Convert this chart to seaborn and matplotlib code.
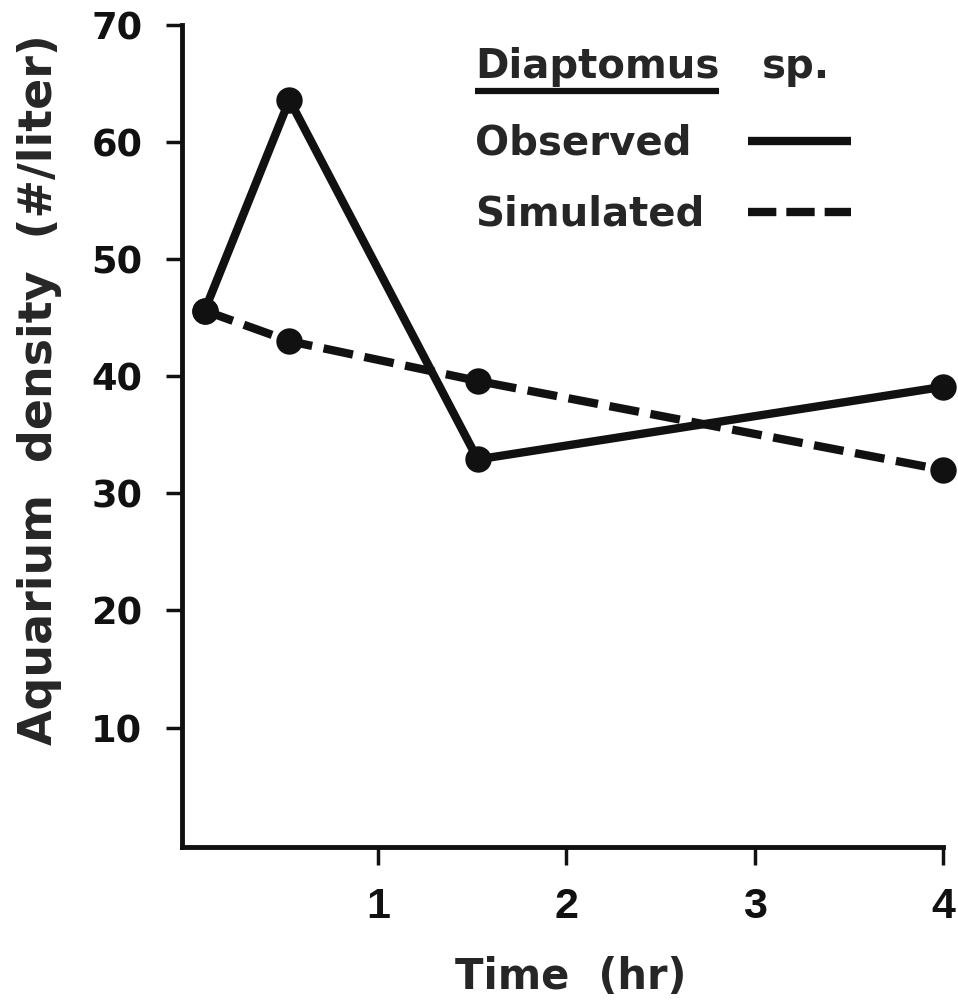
import matplotlib
matplotlib.use("Agg")
import matplotlib.pyplot as plt
from matplotlib.lines import Line2D
import pandas as pd
import seaborn as sns

# Diaptomus sp. density in the aquarium over time
time_hr = [0.08, 0.53, 1.53, 4.0]
observed = [45.6, 63.6, 32.9, 39.1]
simulated = [45.6, 43.0, 39.6, 32.0]
series_names = ["Observed", "Simulated"]
y_ticks = [10, 20, 30, 40, 50, 60, 70]
x_ticks = [1, 2, 3, 4]

df = pd.DataFrame({
    "time": time_hr * 2,
    "density": observed + simulated,
    "series": [series_names[0]] * len(time_hr) + [series_names[1]] * len(time_hr),
})

sns.set_theme(style="ticks")
plt.rcParams["font.family"] = ["DejaVu Sans"]
plt.rcParams["font.weight"] = "bold"

INK = "#111111"
fig = plt.figure(figsize=(9.58, 10.02), dpi=100)
ax = fig.add_axes([0.19, 0.1547, 0.7944, 0.8204])

sns.lineplot(
    data=df, x="time", y="density", style="series",
    dashes={"Observed": "", "Simulated": (3.6, 1.4)},
    markers={"Observed": "o", "Simulated": "o"},
    color=INK, linewidth=6, markersize=19, markeredgewidth=0,
    legend=False, ax=ax, clip_on=False,
)

ax.set_xlim(-0.04, 4.0)
ax.set_ylim(-0.2, 70)
ax.set_xticks(x_ticks)
ax.set_yticks(y_ticks)
ax.set_xticklabels([str(v) for v in x_ticks], fontsize=31, fontweight="bold",
                   family=["Liberation Sans", "DejaVu Sans"])
ax.set_yticklabels([str(v) for v in y_ticks], fontsize=26.5, fontweight="bold")
for side in ("top", "right"):
    ax.spines[side].set_visible(False)
for side in ("left", "bottom"):
    ax.spines[side].set_linewidth(3.5)
    ax.spines[side].set_color(INK)
ax.tick_params(axis="y", length=11.5, width=2.5, pad=17, colors=INK)
ax.tick_params(axis="x", length=13, width=2.5, pad=16, colors=INK)

ax.set_xlabel("Time  (hr)", fontsize=30, fontweight="bold", va="center", ha="center")
ax.xaxis.set_label_coords(0.511, -0.158)
ax.set_ylabel("Aquarium  density  (#/liter)", fontsize=33, fontweight="bold",
              va="center", ha="center")
ax.yaxis.set_label_coords(-0.187, 0.556)

# Legend heading with the genus name underlined
LEG_SIZE = 29
genus = ax.text(0.385, 0.9355, "Diaptomus", transform=ax.transAxes,
                fontsize=LEG_SIZE, fontweight="bold", ha="left", va="baseline")
ax.text(0.762, 0.9355, "sp.", transform=ax.transAxes,
        fontsize=LEG_SIZE, fontweight="bold", ha="left", va="baseline")

# Legend entry labels, left aligned in one column
for name, y in zip(series_names, [0.842, 0.7555]):
    ax.text(0.385, y, name, transform=ax.transAxes,
            fontsize=LEG_SIZE, fontweight="bold", ha="left", va="baseline")

# Line samples for each entry, in one column to the right of the labels
handles = [
    Line2D([], [], color=INK, lw=6, solid_capstyle="butt"),
    Line2D([], [], color=INK, lw=6, dashes=(3.4, 1.2)),
]
ax.legend(handles, ["", ""], loc="upper left",
          bbox_to_anchor=(0.7438, 0.8796), frameon=False,
          borderpad=0, borderaxespad=0,
          markerfirst=False, handlelength=2.56, handletextpad=0,
          labelspacing=0.77, prop={"size": LEG_SIZE, "weight": "bold"})

fig.canvas.draw()
bb = genus.get_window_extent().transformed(ax.transAxes.inverted())
ax.plot([bb.x0, bb.x1], [0.9197, 0.9197], transform=ax.transAxes,
        color=INK, lw=4.5, clip_on=False, solid_capstyle="butt")

fig.savefig("out.png", dpi=100, facecolor="white")
